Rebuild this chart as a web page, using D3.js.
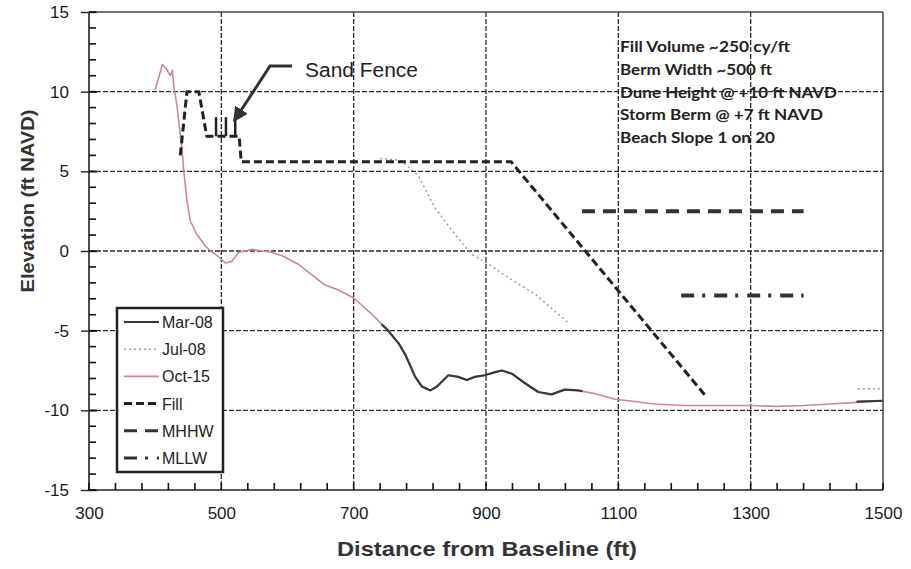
<!DOCTYPE html>
<html><head><meta charset="utf-8">
<script src="https://cdn.jsdelivr.net/npm/d3@7"></script>
<style>body{margin:0;background:#fff} svg{display:block}</style>
</head><body><svg id="c" width="911" height="569"></svg>
<script>
// ---------- data ----------
const xTicks = [300, 500, 700, 900, 1100, 1300, 1500];
const yTicks = [-15, -10, -5, 0, 5, 10, 15];
const xMinorTicks = d3.range(300, 1501, 40);
const yMinorTicks = d3.range(-15, 16, 1);
const seriesNames = ["Mar-08", "Jul-08", "Oct-15", "Fill", "MHHW", "MLLW"];

const oct15 = [[400,10.1],[411,11.7],[416,11.5],[423,11.0],[426,11.35],[428,10.4],[433,9.1],[441,6.2],[443,5.1],[448,3.2],[453,1.9],[463,1.05],[476,0.3],[484,0],[494,-0.3],[506,-0.75],[516,-0.65],[526,-0.1],[546,0.1],[572,-0.05],[592,-0.3],[617,-0.85],[637,-1.5],[655,-2.1],[677,-2.45],[700,-2.95],[727,-3.95],[750,-4.9],[768,-5.8],[778,-6.5],[793,-7.9],[803,-8.5],[816,-8.75],[826,-8.5],[843,-7.8],[858,-7.9],[871,-8.1],[883,-7.9],[898,-7.8],[914,-7.6],[924,-7.5],[939,-7.7],[959,-8.3],[979,-8.85],[999,-9.0],[1019,-8.7],[1039,-8.75],[1064,-8.95],[1095,-9.3],[1125,-9.45],[1155,-9.6],[1200,-9.7],[1250,-9.7],[1300,-9.7],[1340,-9.75],[1380,-9.7],[1420,-9.6],[1460,-9.5],[1500,-9.4]];

const mar08 = [[742,-4.6],[750,-4.9],[768,-5.8],[778,-6.5],[793,-7.9],[803,-8.5],[816,-8.75],[826,-8.5],[843,-7.8],[858,-7.9],[871,-8.1],[883,-7.9],[898,-7.8],[914,-7.6],[924,-7.5],[939,-7.7],[959,-8.3],[979,-8.85],[999,-9.0],[1019,-8.7],[1039,-8.75],[1046,-8.8],null,[1460,-9.45],[1500,-9.4]];

const jul08 = [[740,5.8],[770,5.7],[788,5.1],[798,4.7],[823,2.7],[853,1.05],[878,-0.2],[909,-0.95],[929,-1.55],[974,-2.7],[1009,-3.95],[1024,-4.5],null,[1462,-8.65],[1500,-8.65]];

const fill = [[438,6.0],[448,10],[466,10],[478,7.2],[527,7.2],[530,5.6],[938,5.6],[1233,-9.15]];
const sandFencePosts = [492, 507, 521];
const sandFenceBase = 7.2, sandFenceTop = 8.4;

const mhhw = [[1045,2.5],[1380,2.5]];
const mllw = [[1195,-2.8],[1380,-2.8]];

const notes = ["Fill Volume ~250 cy/ft", "Berm Width ~500 ft", "Dune Height @ +10 ft NAVD", "Storm Berm @ +7 ft NAVD", "Beach Slope 1 on 20"];

// ---------- chart ----------
const svg = d3.select("#c");
const FONT = "'Liberation Sans', Arial, sans-serif";
const x = d3.scaleLinear().domain([300, 1500]).range([89, 883]);
const y = d3.scaleLinear().domain([-15, 15]).range([490, 12]);
const [x0, x1] = x.range(), [yb, yt] = y.range();
const plain = d => String(d);

svg.append("rect").attr("x", 0).attr("y", 0).attr("width", 911).attr("height", 569).attr("fill", "#fff");

// grid
const grid = svg.append("g").attr("stroke", "#2b2b2b").attr("stroke-width", 1.3).attr("stroke-dasharray", "5,2");
grid.selectAll("line.gx").data(xTicks.slice(1, -1)).join("line").attr("class", "gx")
  .attr("x1", d => x(d)).attr("x2", d => x(d)).attr("y1", yt).attr("y2", yb);
grid.selectAll("line.gy").data(yTicks.slice(1, -1)).join("line").attr("class", "gy")
  .attr("x1", x0).attr("x2", x1).attr("y1", d => y(d)).attr("y2", d => y(d));

const line = d3.line().defined(d => d).x(d => x(d[0])).y(d => y(d[1]));

const styles = {
  "Mar-08": {stroke: "#383838", width: 2.2, dash: null},
  "Jul-08": {stroke: "#9a9a9a", width: 1.4, dash: "2,3"},
  "Oct-15": {stroke: "#cc869e", width: 1.6, dash: null},
  "Fill":   {stroke: "#222", width: 3, dash: "8,4"},
  "MHHW":   {stroke: "#333", width: 4, dash: "13,8"},
  "MLLW":   {stroke: "#333", width: 4, dash: "13,8,3,9"}
};
function draw(data, name) {
  const s = styles[name];
  svg.append("path").datum(data).attr("d", line).attr("fill", "none")
    .attr("stroke", s.stroke).attr("stroke-width", s.width)
    .attr("stroke-dasharray", s.dash).attr("stroke-linejoin", "round");
}
draw(oct15, "Oct-15");
draw(mar08, "Mar-08");
draw(jul08, "Jul-08");
draw(fill, "Fill");
draw(mhhw, "MHHW");
draw(mllw, "MLLW");

// sand fence posts
svg.append("g").selectAll("line").data(sandFencePosts).join("line")
  .attr("x1", d => x(d)).attr("x2", d => x(d))
  .attr("y1", y(sandFenceBase)).attr("y2", y(sandFenceTop))
  .attr("stroke", "#222").attr("stroke-width", 2.5);

// axes
const ax = svg.append("g").attr("font-family", FONT);
const yAxis = ax.append("g").attr("transform", `translate(${x0},0)`)
  .call(d3.axisLeft(y).tickValues(yTicks).tickSize(8).tickPadding(12).tickFormat(plain));
yAxis.selectAll("text").attr("font-size", 17).attr("fill", "#1a1a1a").attr("font-family", FONT);
yAxis.selectAll(".tick line").attr("x2", -8).attr("x1", 8).attr("stroke", "#222").attr("stroke-width", 1.4);

const xAxis = ax.append("g").attr("transform", `translate(0,${yb})`)
  .call(d3.axisBottom(x).tickValues(xTicks).tickSize(0).tickPadding(17).tickFormat(plain));
xAxis.selectAll("text").attr("font-size", 17).attr("fill", "#1a1a1a").attr("font-family", FONT);
ax.selectAll(".domain").remove();

// frame
svg.append("line").attr("x1", x0).attr("x2", x0).attr("y1", yt).attr("y2", yb).attr("stroke", "#222").attr("stroke-width", 1.6);
svg.append("line").attr("x1", x0).attr("x2", x1).attr("y1", yb).attr("y2", yb).attr("stroke", "#222").attr("stroke-width", 1.6);
svg.append("line").attr("x1", x1).attr("x2", x1).attr("y1", yt).attr("y2", yb).attr("stroke", "#444").attr("stroke-width", 1.5);
svg.append("line").attr("x1", x0).attr("x2", x1).attr("y1", yt).attr("y2", yt).attr("stroke", "#3a4a3a").attr("stroke-width", 1.6);

// minor ticks (drawn over the frame)
const minor = svg.append("g");
minor.selectAll("line.my").data(yMinorTicks).join("line").attr("class", "my")
  .attr("x1", x0).attr("x2", x0 + 7).attr("y1", d => y(d)).attr("y2", d => y(d))
  .attr("stroke", "#111").attr("stroke-width", 1.6);
minor.selectAll("line.mx").data(xMinorTicks).join("line").attr("class", "mx")
  .attr("x1", d => x(d)).attr("x2", d => x(d)).attr("y1", yb).attr("y2", yb - 7)
  .attr("stroke", "#111").attr("stroke-width", 1.6);

// axis titles
svg.append("text").attr("transform", `translate(34,${(yt + yb) / 2 - 50}) rotate(-90)`)
  .attr("text-anchor", "middle").attr("font-family", FONT).attr("font-weight", "bold")
  .attr("font-size", 19).attr("fill", "#333").attr("textLength", 183).attr("lengthAdjust", "spacingAndGlyphs")
  .text("Elevation (ft NAVD)");
svg.append("text").attr("x", 487).attr("y", 556)
  .attr("text-anchor", "middle").attr("font-family", FONT).attr("font-weight", "bold")
  .attr("font-size", 21).attr("fill", "#333").attr("textLength", 300).attr("lengthAdjust", "spacingAndGlyphs")
  .text("Distance from Baseline (ft)");

// sand fence annotation
svg.append("defs").append("marker").attr("id", "ah").attr("viewBox", "0 0 10 10")
  .attr("refX", 9).attr("refY", 5).attr("markerWidth", 5).attr("markerHeight", 5)
  .attr("orient", "auto-start-reverse").append("path").attr("d", "M0,0L10,5L0,10z").attr("fill", "#333");
svg.append("polyline").attr("points", "292,66 270,66 234,121").attr("fill", "none")
  .attr("stroke", "#333").attr("stroke-width", 3).attr("marker-end", "url(#ah)");
svg.append("text").attr("x", 305).attr("y", 77).attr("font-family", FONT).attr("font-size", 20)
  .attr("fill", "#222").attr("textLength", 113).attr("lengthAdjust", "spacingAndGlyphs").text("Sand Fence");

// notes
const noteW = [170, 152, 217, 203, 155];
svg.append("g").selectAll("text").data(notes).join("text")
  .attr("x", 620).attr("y", (d, i) => 52 + i * 22.8)
  .attr("font-family", "Lato, 'Open Sans', sans-serif").attr("font-weight", "bold").attr("font-size", 14.5)
  .attr("fill", "#222").attr("textLength", (d, i) => noteW[i]).attr("lengthAdjust", "spacingAndGlyphs")
  .text(d => d);

// legend
const lg = svg.append("g");
lg.append("rect").attr("x", 117).attr("y", 308).attr("width", 106).attr("height", 164)
  .attr("fill", "#fff").attr("stroke", "#222").attr("stroke-width", 2.5);
const rows = lg.selectAll("g.row").data(seriesNames).join("g").attr("class", "row")
  .attr("transform", (d, i) => `translate(0,${322 + i * 27.2})`);
rows.append("line").attr("x1", 124).attr("x2", 159).attr("y1", 0).attr("y2", 0)
  .attr("stroke", d => styles[d].stroke)
  .attr("stroke-width", d => Math.min(styles[d].width, 3))
  .attr("stroke-dasharray", d => styles[d].dash);
rows.append("text").attr("x", 162).attr("y", 6).attr("font-family", FONT).attr("font-size", 16)
  .attr("fill", "#222").text(d => d);
</script></body></html>
